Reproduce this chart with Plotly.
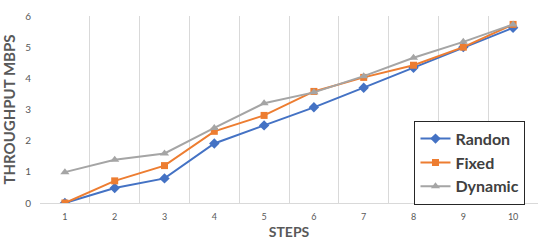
import plotly.graph_objects as go

steps = ["1", "2", "3", "4", "5", "6", "7", "8", "9", "10"]
randon = [0, 0.48, 0.79, 1.91, 2.49, 3.07, 3.70, 4.34, 5.0, 5.62]
fixed = [0, 0.71, 1.2, 2.30, 2.81, 3.58, 4.03, 4.42, 5.0, 5.73]
dynamic = [0.99, 1.39, 1.59, 2.41, 3.2, 3.55, 4.07, 4.66, 5.17, 5.73]
y_ticks = [0, 1, 2, 3, 4, 5, 6]

fig = go.Figure()
fig.add_trace(go.Scatter(x=steps, y=randon, name="Randon", mode="lines+markers",
                         line=dict(color="#4472C4", width=2),
                         marker=dict(symbol="diamond", size=8, color="#4472C4")))
fig.add_trace(go.Scatter(x=steps, y=fixed, name="Fixed", mode="lines+markers",
                         line=dict(color="#ED7D31", width=2),
                         marker=dict(symbol="square", size=7, color="#ED7D31")))
fig.add_trace(go.Scatter(x=steps, y=dynamic, name="Dynamic", mode="lines+markers",
                         line=dict(color="#A5A5A5", width=2),
                         marker=dict(symbol="triangle-up", size=8, color="#A5A5A5")))

fig.update_layout(
    width=550, height=247,
    margin=dict(l=40, r=12, t=16, b=44, autoexpand=False),
    paper_bgcolor="white", plot_bgcolor="white",
    font=dict(family="Lato, Open Sans, sans-serif", color="#595959"),
    legend=dict(x=0.752, y=0.44, xanchor="left", yanchor="top",
                bordercolor="#262626", borderwidth=1, bgcolor="white",
                font=dict(size=16, color="#404040", family="Lato, sans-serif", weight="bold"),
                itemwidth=30, tracegroupgap=0),
    showlegend=True,
)
fig.update_xaxes(type="category", range=[-0.5, 9.5], tickson="boundaries",
                 showgrid=True, gridcolor="#D9D9D9", gridwidth=1,
                 showline=True, linecolor="#D9D9D9", ticks="", automargin=False,
                 ticklabelstandoff=5,
                 tickfont=dict(size=9, color="#595959"),
                 title=dict(text="STEPS", font=dict(size=14, weight="bold", color="#595959"), standoff=6),
                 mirror=False)
fig.update_yaxes(range=[0, 6], tickvals=y_ticks, showgrid=False, zeroline=False,
                 showline=False, ticks="", automargin=False,
                 ticklabelstandoff=8,
                 tickfont=dict(size=10, color="#595959"),
                 title=dict(text="THROUGHPUT MBPS", font=dict(size=15, weight="bold", color="#595959"), standoff=5))

fig.write_html("out.html", config={"displayModeBar": False},
               post_script="document.body.style.margin='0';")
